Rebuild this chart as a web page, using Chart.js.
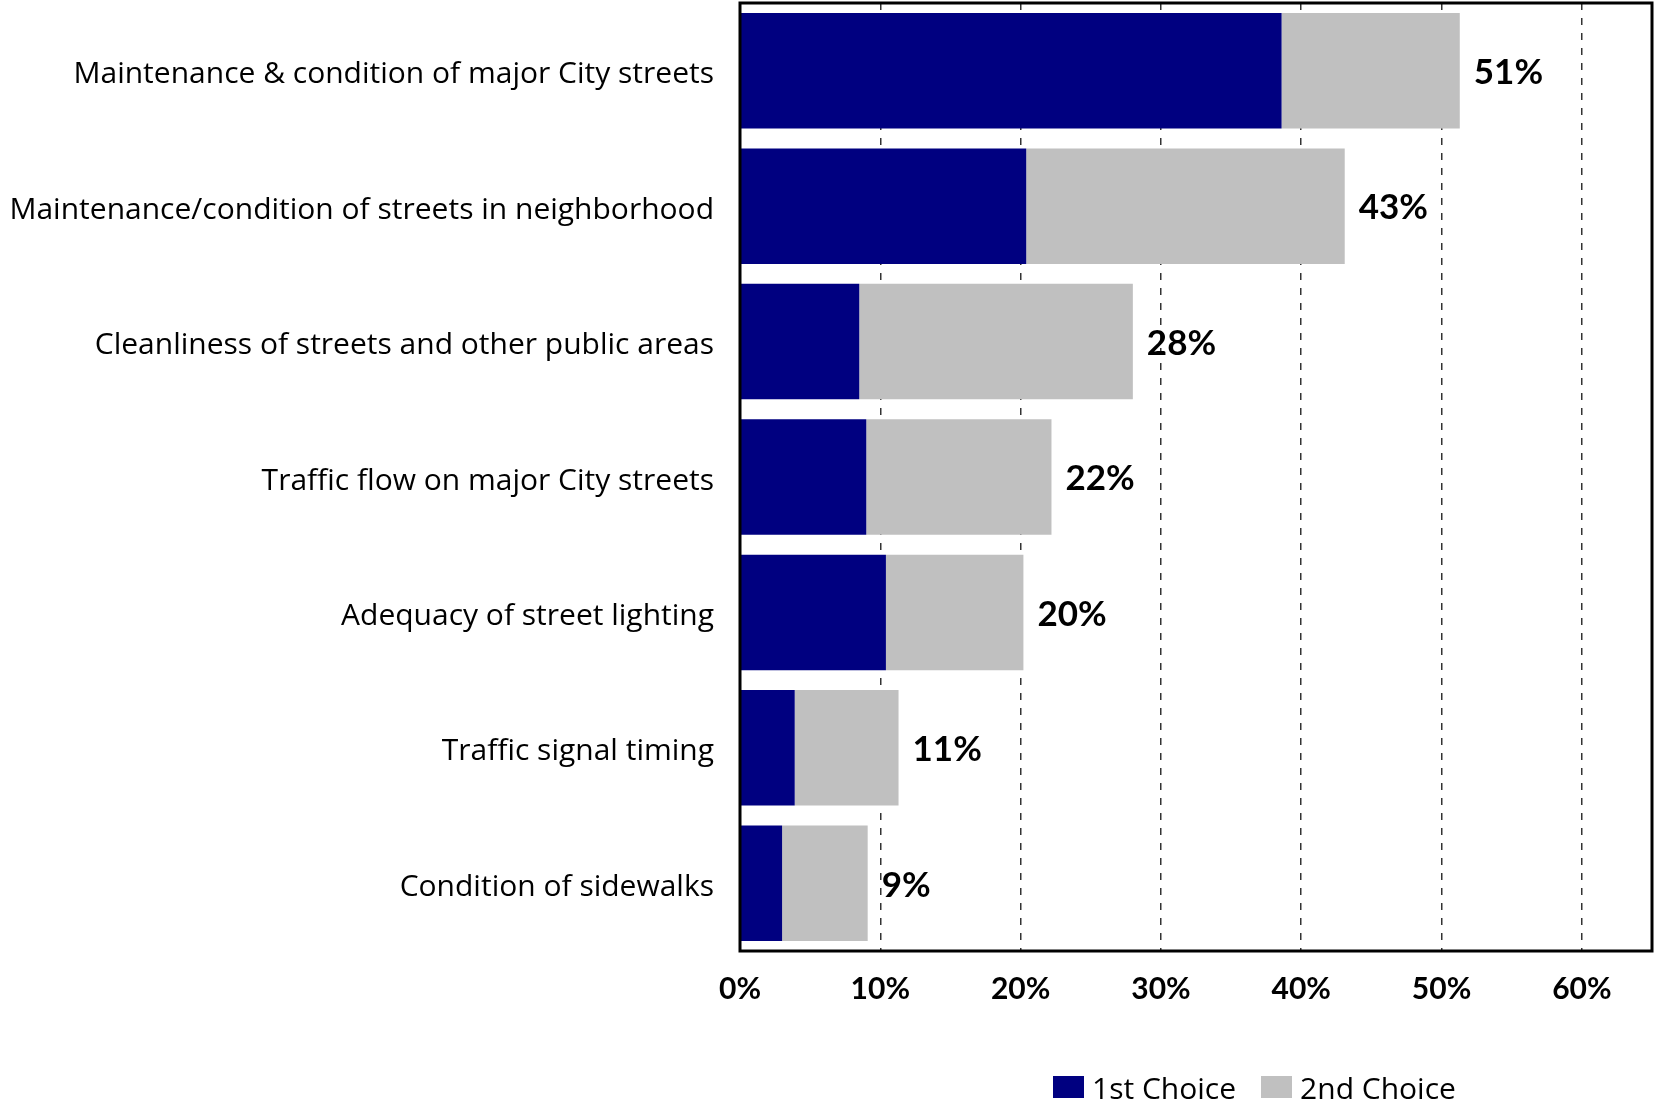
<!DOCTYPE html>
<html>
<head>
<meta charset="utf-8">
<script src="https://cdn.jsdelivr.net/npm/chart.js@4.4.1/dist/chart.umd.min.js"></script>
<style>
  body { margin: 0; background: #ffffff; }
  #wrap { position: relative; width: 1654px; height: 1103px; overflow: hidden; }
  #legend { position: absolute; left: 1053px; top: 1066px; font-family: 'Open Sans', sans-serif; font-size: 30px; color: #000; white-space: nowrap; }
  #legend span.item { display: inline-flex; align-items: center; margin-right: 25px; }
  #legend span.box { display: inline-block; width: 31px; height: 22px; margin-right: 8px; }
</style>
</head>
<body>
<div id="wrap">
  <canvas id="prioritiesChart" width="1654" height="1103"></canvas>
  <div id="legend"></div>
</div>
<script>
const categories = [
    'Maintenance & condition of major City streets',
    'Maintenance/condition of streets in neighborhood',
    'Cleanliness of streets and other public areas',
    'Traffic flow on major City streets',
    'Adequacy of street lighting',
    'Traffic signal timing',
    'Condition of sidewalks'
];
const firstChoice = [38.6, 20.4, 8.5, 9.0, 10.4, 3.9, 3.0];
const secondChoice = [12.7, 22.7, 19.5, 13.2, 9.8, 7.4, 6.1];
const seriesNames = ['1st Choice', '2nd Choice'];
const seriesColors = ['#000080', '#C0C0C0'];

// black frame around the plot area
const frameBox = {
    id: 'frameBox',
    afterDatasetsDraw(chart) {
        const { ctx, chartArea: a } = chart;
        ctx.save();
        ctx.strokeStyle = '#000000';
        ctx.lineWidth = 3;
        ctx.strokeRect(a.left, a.top, a.right - a.left, a.bottom - a.top);
        ctx.restore();
    }
};

// total % to the right of each stacked bar
const totalLabels = {
    id: 'totalLabels',
    afterDatasetsDraw(chart) {
        const { ctx } = chart;
        const lastMeta = chart.getDatasetMeta(chart.data.datasets.length - 1);
        ctx.save();
        ctx.font = 'bold 35px Lato, sans-serif';
        ctx.fillStyle = '#000000';
        ctx.textAlign = 'left';
        ctx.textBaseline = 'middle';
        lastMeta.data.forEach((bar, i) => {
            const total = firstChoice[i] + secondChoice[i];
            ctx.fillText(Math.round(total) + '%', bar.x + 14, bar.y + 2);
        });
        ctx.restore();
    }
};

const chart = new Chart(document.getElementById('prioritiesChart'), {
    type: 'bar',
    data: {
        labels: categories,
        datasets: [
            { label: seriesNames[0], data: firstChoice, backgroundColor: seriesColors[0] },
            { label: seriesNames[1], data: secondChoice, backgroundColor: seriesColors[1] }
        ]
    },
    options: {
        indexAxis: 'y',
        responsive: false,
        animation: false,
        layout: { padding: { top: 3, right: 2, left: 0, bottom: 0 } },
        datasets: {
            bar: { categoryPercentage: 1, barPercentage: 0.853 }
        },
        scales: {
            x: {
                stacked: true,
                min: 0,
                max: 65,
                afterFit(scale) { scale.height = 152; },
                grid: { color: '#333333', lineWidth: 1.5, drawTicks: false },
                border: { display: false, dash: [7, 8] },
                ticks: {
                    stepSize: 10,
                    includeBounds: false,
                    padding: 20,
                    color: '#000000',
                    font: { family: 'Lato', size: 30, weight: 'bold' },
                    callback: v => v + '%'
                }
            },
            y: {
                stacked: true,
                afterFit(scale) {
                    scale.width = 740;
                    scale.paddingTop = 0;
                    scale.paddingBottom = 0;
                },
                grid: { display: false },
                border: { display: false },
                ticks: {
                    padding: 18,
                    labelOffset: 4,
                    color: '#000000',
                    font: { family: 'Open Sans', size: 30 }
                }
            }
        },
        plugins: {
            legend: { display: false },
            tooltip: { enabled: false }
        }
    },
    plugins: [frameBox, totalLabels]
});

// legend built from the chart datasets
const legendEl = document.getElementById('legend');
chart.data.datasets.forEach(ds => {
    const item = document.createElement('span');
    item.className = 'item';
    const box = document.createElement('span');
    box.className = 'box';
    box.style.background = ds.backgroundColor;
    item.appendChild(box);
    item.appendChild(document.createTextNode(ds.label));
    legendEl.appendChild(item);
});
</script>
</body>
</html>
